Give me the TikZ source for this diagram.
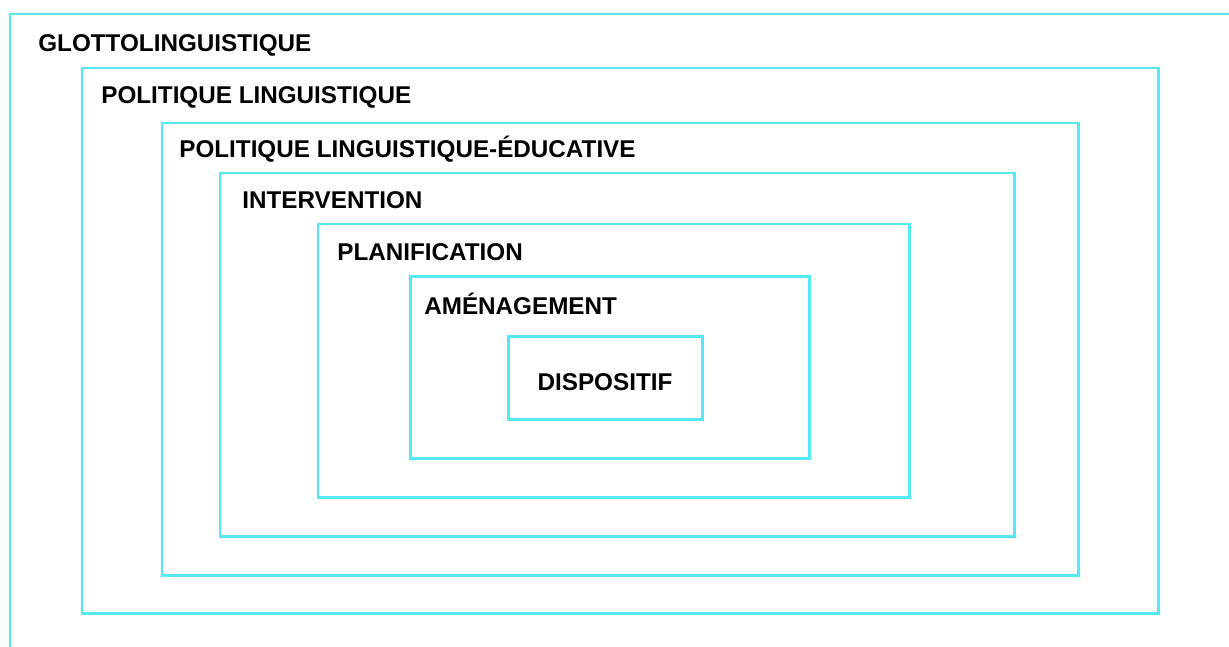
\documentclass[tikz,border=0pt]{standalone}
\usepackage{fontspec}
\setmainfont{Liberation Sans}
\usepackage{tikz}
\usetikzlibrary{positioning}
\definecolor{frameblue}{RGB}{84,232,242}

\begin{document}
\begin{tikzpicture}[
    x=0.02cm, y=-0.02cm,
    frame/.style={draw=frameblue, line width=1.7pt},
    label/.style={anchor=west, inner sep=0pt, font=\fontsize{13.8}{15}\selectfont\bfseries}
]
    \useasboundingbox (0,0) rectangle (1229,646);
    \begin{scope}
    \clip (0,0) rectangle (1229,646);
    % Outer level
    \draw[frame] (10,14) rectangle (1260,680);
    \node[label] (glotto) at (38,45) {GLOTTOLINGUISTIQUE};

    % Policy levels
    \draw[frame] (82,68) rectangle (1158,613);
    \node[label] (polling) at (101,97) {POLITIQUE LINGUISTIQUE};
    \draw[frame] (162,123) rectangle (1078,575);
    \node[label] (poledu) at (179,149) {POLITIQUE LINGUISTIQUE-ÉDUCATIVE};

    % Action levels
    \draw[frame] (220,173) rectangle (1014,536);
    \node[label] (interv) at (242,200) {INTERVENTION};
    \draw[frame] (318,224) rectangle (909,497);
    \node[label] (planif) at (337,252) {PLANIFICATION};
    \draw[frame] (410,276) rectangle (809,458);
    \node[label] (amenag) at (424,304) {AMÉNAGEMENT};

    % Core
    \draw[frame] (508,336) rectangle (702,419);
    \node[label, anchor=center] (dispo) at (605,382) {DISPOSITIF};
    \end{scope}
\end{tikzpicture}
\end{document}
